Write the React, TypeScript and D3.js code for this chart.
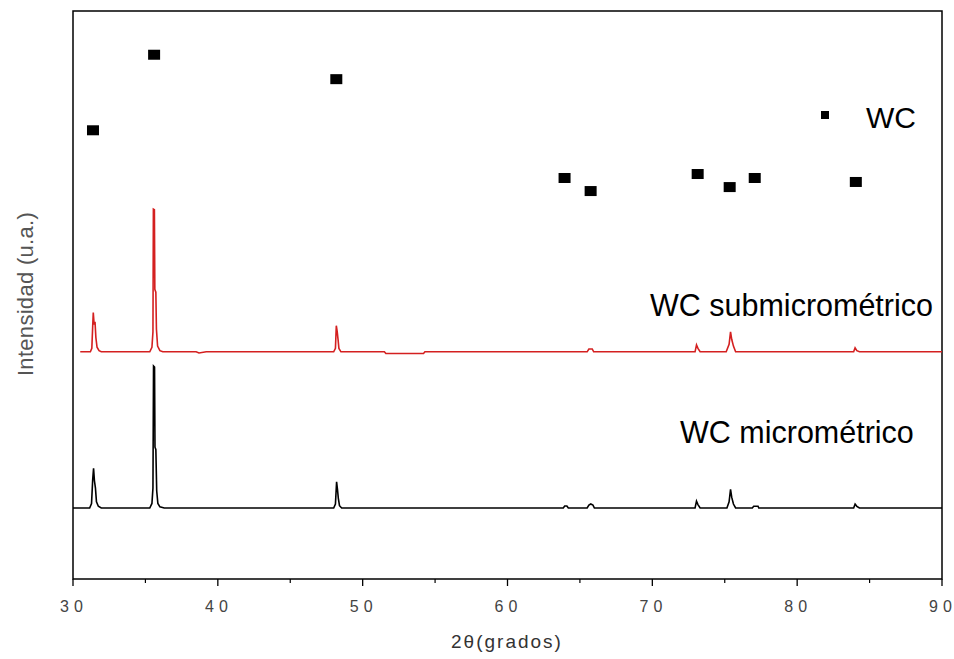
import React from "react";
import * as d3 from "d3";

const W = 954, H = 659;
const M = { left: 73, right: 942, top: 11, bottom: 579 };

const xTicks = [30, 40, 50, 60, 70, 80, 90];
const xMinor = [35, 45, 55, 65, 75, 85];

// WC reference peak markers (2θ, marker height in a.u.)
const wcMarkerX = [31.38, 35.6, 48.18, 63.94, 65.74, 73.13, 75.34, 77.07, 84.05];
const wcMarkerY = [79.0, 92.3, 88.0, 70.6, 68.3, 71.3, 69.0, 70.6, 69.9];

// WC submicrométrico trace (2θ, intensity)
const subMicro: [number, number][] = [
  [30.5, 40], [31.2, 40], [31.3, 40.6], [31.36, 44.5], [31.4, 46.9], [31.46, 44.8], [31.52, 45.3], [31.58, 42.5], [31.66, 40.8], [31.8, 40.2], [31.95, 40],
  [35.3, 40], [35.45, 40.8], [35.52, 43.5], [35.55, 65.1], [35.62, 65.0], [35.65, 51.0], [35.72, 50.5], [35.76, 44], [35.84, 41], [36.0, 40.2], [36.2, 40],
  [38.5, 40], [38.7, 39.8], [39.2, 40], [48.0, 40], [48.12, 40.6], [48.18, 44.6], [48.24, 43.6], [48.3, 42.2], [48.36, 40.6], [48.5, 40],
  [51.5, 40], [51.6, 39.7], [54.2, 39.7], [54.3, 40], [65.5, 40], [65.62, 40.5], [65.85, 40.5], [65.95, 40],
  [72.95, 40], [73.05, 41.2], [73.15, 40.6], [73.3, 40],
  [75.1, 40], [75.3, 41.3], [75.4, 43.5], [75.48, 42.2], [75.6, 41.0], [75.75, 40],
  [83.9, 40], [84.0, 40.7], [84.12, 40.2], [84.3, 40], [90, 40],
];

// WC micrométrico trace (2θ, intensity)
const micro: [number, number][] = [
  [30.0, 12.5], [31.15, 12.5], [31.28, 13.3], [31.36, 17.5], [31.42, 19.5], [31.48, 17.3], [31.55, 16.0], [31.62, 13.6], [31.75, 12.8], [31.95, 12.5],
  [35.3, 12.5], [35.45, 13.3], [35.52, 16.0], [35.56, 37.5], [35.63, 37.3], [35.66, 23.2], [35.72, 22.8], [35.78, 15.5], [35.86, 13.3], [36.0, 12.7], [36.3, 12.5],
  [48.0, 12.5], [48.12, 13.2], [48.2, 17.1], [48.26, 15.8], [48.32, 14.2], [48.4, 12.9], [48.55, 12.5],
  [63.85, 12.5], [63.95, 12.85], [64.1, 12.85], [64.2, 12.5],
  [65.5, 12.5], [65.62, 13.0], [65.75, 13.2], [65.9, 13.0], [66.0, 12.5],
  [72.95, 12.5], [73.05, 13.7], [73.15, 13.1], [73.3, 12.5],
  [75.15, 12.5], [75.3, 13.6], [75.4, 15.8], [75.48, 14.4], [75.6, 13.2], [75.75, 12.5],
  [76.9, 12.5], [77.0, 12.8], [77.3, 12.8], [77.35, 12.5],
  [83.9, 12.5], [84.0, 13.2], [84.12, 12.8], [84.3, 12.5], [90, 12.5],
];

const FONT = "Arial, 'Liberation Sans', sans-serif";

export default function App() {
  const x = d3.scaleLinear().domain([30, 90]).range([M.left, M.right]);
  const y = d3.scaleLinear().domain([0, 100]).range([M.bottom, M.top]);
  const line = d3.line<[number, number]>().x(d => x(d[0])).y(d => y(d[1]));

  return (
    <svg width={W} height={H} style={{ position: "absolute", left: 0, top: 0, background: "#fff" }}>
      <rect x={M.left} y={M.top} width={M.right - M.left} height={M.bottom - M.top} fill="none" stroke="#000" strokeWidth={1.5} />
      {xTicks.map(t => (
        <g key={t}>
          <line x1={x(t)} x2={x(t)} y1={M.bottom} y2={M.bottom + 7} stroke="#000" strokeWidth={1.3} />
          <text y={612} textAnchor="middle" fontFamily={FONT} fontSize={16} fill="#444">
            {String(t).split("").map((c, i, arr) => (
              <tspan key={i} x={x(t) - 1.5 + (i - (arr.length - 1) / 2) * 14}>{c}</tspan>
            ))}
          </text>
        </g>
      ))}
      {xMinor.map(t => (
        <line key={t} x1={x(t)} x2={x(t)} y1={M.bottom} y2={M.bottom + 4} stroke="#000" strokeWidth={1.2} />
      ))}
      <text x={507} y={648} textAnchor="middle" fontFamily={FONT} fontSize={19} fill="#333" letterSpacing={2}>2θ(grados)</text>
      <text transform="translate(33,294) rotate(-90)" textAnchor="middle" fontFamily={FONT} fontSize={22} fill="#555" letterSpacing={0.3}>Intensidad (u.a.)</text>

      <path d={line(micro) || ""} fill="none" stroke="#000" strokeWidth={1.6} />
      <path d={line(subMicro) || ""} fill="none" stroke="#d42020" strokeWidth={1.6} />

      {wcMarkerX.map((mx, i) => (
        <rect key={i} x={x(mx) - 6} y={y(wcMarkerY[i]) - 5} width={12} height={10} fill="#000" />
      ))}

      <rect x={821} y={111} width={8} height={8} fill="#000" />
      <text x={866} y={128} fontFamily={FONT} fontSize={30} fill="#000">WC</text>
      <text x={933} y={316} textAnchor="end" fontFamily={FONT} fontSize={30.5} fill="#000">WC submicrométrico</text>
      <text x={680} y={443} fontFamily={FONT} fontSize={30.5} fill="#000">WC micrométrico</text>
    </svg>
  );
}
